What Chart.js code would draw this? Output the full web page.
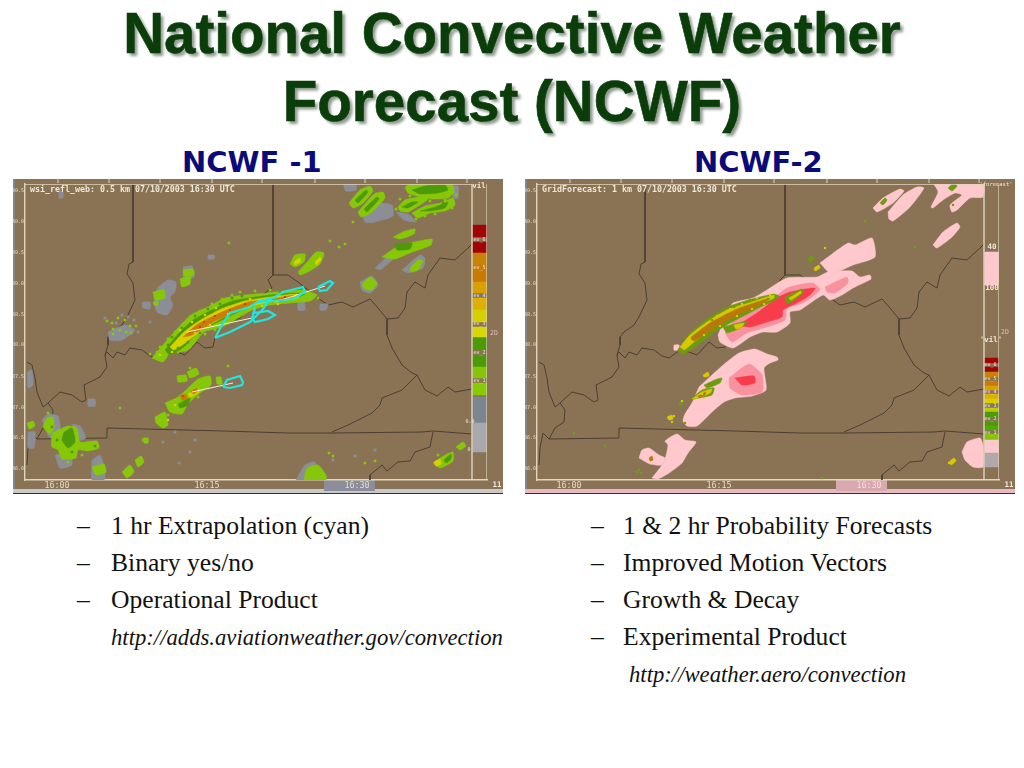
<!DOCTYPE html>
<html><head><meta charset="utf-8">
<script src="https://cdn.jsdelivr.net/npm/chart.js@4"></script>
<style>
html,body{margin:0;padding:0;background:#fff;width:1024px;height:768px;overflow:hidden}
.t{position:absolute;white-space:nowrap;line-height:1}
#title{left:0;width:1024px;text-align:center;font:bold 56.5px "Liberation Sans";color:#0b3d0b;text-shadow:3px 3px 3px #8f9a8f;line-height:68px;top:3px;-webkit-text-stroke:.6px #0b3d0b}
.sub{font:bold 29px "DejaVu Sans";color:#0a0a7a;top:145px}
.li{font:25.6px "Liberation Serif";color:#111}
.url{font:italic 22.7px "Liberation Serif";color:#111}
.panel{position:absolute;top:179px;width:490px;height:315px;background:#8a7355;overflow:hidden}
.edge{position:absolute;left:0;top:0;width:2px;height:315px;background:#858585}
.strip{position:absolute;left:0;bottom:0;width:490px;height:4px}
.block{position:absolute;left:311px;top:301px;width:51px;height:11px}
.head{position:absolute;left:17px;top:5px;font:bold 8.3px "DejaVu Sans Mono";color:#eee6d6;white-space:pre;z-index:3}
canvas{position:absolute;left:0;top:0;filter:blur(.6px)}
</style></head><body>
<div id="title">National Convective Weather<br>Forecast (NCWF)</div>
<div class="t sub" style="left:182px">NCWF -1</div>
<div class="t sub" style="left:694px">NCWF-2</div>

<div class="panel" style="left:13px">
 <div class="edge"></div><div class="strip" style="background:#c9c9c9;border-bottom:1px solid #333"></div>
 <div class="block" style="background:#8b8d9a"></div>
 <div class="head">wsi_refl_web: 0.5 km 07/10/2003 16:30 UTC</div>
 <canvas id="one" width="490" height="315"></canvas>
</div>
<div class="panel" style="left:525px">
 <div class="edge"></div><div class="strip" style="background:#e8b9c2;border-bottom:1px solid #333"></div>
 <div class="block" style="background:#d9a9b2"></div>
 <div class="head">GridForecast: 1 km 07/10/2003 16:30 UTC</div>
 <canvas id="two" width="490" height="315"></canvas>
</div>

<div class="t li" style="left:77px;top:511px">–</div><div class="t li" style="left:111px;top:511px">1 hr Extrapolation (cyan)</div>
<div class="t li" style="left:77px;top:548px">–</div><div class="t li" style="left:111px;top:548px">Binary yes/no</div>
<div class="t li" style="left:77px;top:585px">–</div><div class="t li" style="left:111px;top:585px">Operational Product</div>
<div class="t url" style="left:111px;top:625px">http://adds.aviationweather.gov/convection</div>
<div class="t li" style="left:591px;top:511px">–</div><div class="t li" style="left:623px;top:511px">1 &amp; 2 hr Probability Forecasts</div>
<div class="t li" style="left:591px;top:548px">–</div><div class="t li" style="left:623px;top:548px">Improved Motion Vectors</div>
<div class="t li" style="left:591px;top:585px">–</div><div class="t li" style="left:623px;top:585px">Growth &amp; Decay</div>
<div class="t li" style="left:591px;top:622px">–</div><div class="t li" style="left:623px;top:622px">Experimental Product</div>
<div class="t url" style="left:629px;top:662px">http://weather.aero/convection</div>

<script>
/* ---- axes ---- */
const timeTickValues = [57, 207, 357];
const timeTickLabels = ["16:00", "16:15", "16:30"];
const latTickValues = [191, 222, 253, 284, 315, 345, 377, 408, 438, 469];
const latTickLabels = ["40.5", "40.0", "39.5", "39.0", "38.5", "38.0", "37.5", "37.0", "36.5", "36.0"];
const topTickValues = [58, 109, 160, 212, 262, 315, 365, 417, 467];
const bottomTickValues = [105, 155, 205, 255, 305, 354, 404, 454];

/* ---- map outlines (shared by both panels) ---- */
const borderIndianaIllinois = [[133,184],[133,262],[129,264],[127,274],[133,283],[135,300],[127,317],[122,325],[112,332],[108,337],[108,345],[105,355]];
const borderIndianaOhio = [[273,184],[273,275]];
const riverOhio = [[27,362],[32,365],[35,378],[37,392],[43,407],[48,403],[60,392],[72,395],[82,402],[86,400],[84,385],[100,377],[107,367],[105,355],[107,352],[113,358],[117,352],[125,355],[130,348],[142,350],[150,356],[157,358],[168,350],[177,352],[185,355],[197,342],[205,348],[213,347],[215,337],[222,325],[240,318],[255,300],[262,295],[272,288],[268,280],[273,275],[288,275],[298,282],[308,290],[318,298],[328,305],[342,302],[353,307],[370,299],[378,308],[387,319],[398,318],[405,308],[407,292],[415,282],[425,288],[428,275],[440,258],[455,260],[468,248],[472,244]];
const borderKentuckyVirginia = [[387,319],[387,335],[392,348],[402,365],[412,373],[417,375],[402,390],[382,398],[380,405],[372,413],[362,418],[348,425],[332,432]];
const borderVirginiaWest = [[417,375],[425,390],[437,396],[448,387],[455,392],[472,389]];
const borderTennessee = [[37,439],[107,438],[107,428],[223,431],[288,433],[332,433],[422,432],[433,431],[472,434]];
const riverMississippi = [[48,403],[53,410],[52,422],[43,428],[37,439],[31,433],[28,448],[27,465]];
const borderNorthCarolina = [[433,432],[430,447],[415,452],[410,461],[398,462],[387,471],[382,465],[370,475],[370,480]];
const mapLines = [borderIndianaIllinois, borderIndianaOhio, riverOhio, borderKentuckyVirginia, borderVirginiaWest, borderTennessee, riverMississippi, borderNorthCarolina];

/* ---- frame ---- */
const frameTop = [[25,184],[472,184]];
const frameInner = [[472,184],[472,480]];
const frameOuter = [[487,184],[487,480]];

/* ---- colour scale ---- */
const scaleOneBreaks = [[225,237],[242,253],[253,265],[265,282],[282,293],[298,310],[310,322],[327,337],[338,350],[355,367],[367,378],[383,395],[397,423],[423,452]];
const scaleOneColors = ["#a00505","#a00505","#c98208","#c97a05","#d8a005","#ddb005","#d6d000","#d8d800","#4c9a08","#4c9a08","#86c408","#86cc00","#7c8690","#a9a9ad"];
const scaleTwoBreaks = [[358,363],[367,372],[372,377],[381,386],[386,390],[394,399],[399,403],[408,412],[412,418],[422,426],[426,430],[434,440],[440,453],[453,467]];
const scaleTwoColors = ["#a00505","#a00505","#c98208","#c97a05","#d8a005","#ddb005","#d6d000","#b8cc00","#4c9a08","#4c9a08","#50aa00","#86c408","#ffc8cd","#b0a8aa"];
const scaleTwoForecast = [[252,285]];
const scaleOneLabels = [["ev_6",240],["ev_5",268],["ev_4",296],["ev_3",324],["ev_2",353],["ev_1",381]];
const scaleTwoLabels = [["ev_6",365],["ev_5",379],["ev_4",392],["ev_3",406],["ev_2",419],["ev_1",433]];

/* ---- reflectivity panel ---- */
const oneGray = [
 [[158,287],[168,280],[176,282],[175,292],[170,297],[173,305],[167,315],[157,312],[154,300]],
 [[142,302],[150,302],[150,309],[143,308]],
 [[183,267],[192,266],[194,277],[184,280]],
 [[59,192],[63,192],[63,198],[59,198]],
 [[208,255],[214,255],[214,259],[208,259]],
 [[343,184],[356,184],[356,190],[346,191]],
 [[362,210],[380,203],[392,205],[393,216],[375,222],[365,222]],
 [[375,268],[395,250],[400,252],[390,262],[380,270]],
 [[402,270],[420,255],[425,258],[423,268],[408,273]],
 [[360,282],[372,276],[378,285],[370,293],[362,290]],
 [[298,300],[304,300],[305,310],[298,310]],
 [[320,304],[328,304],[326,310],[320,310]],
 [[178,330],[190,317],[205,311],[218,312],[200,328],[182,336]],
 [[226,300],[232,296],[238,298],[232,304]],
 [[42,420],[48,414],[58,416],[60,430],[50,438]],
 [[72,424],[80,426],[86,438],[78,440]],
 [[55,455],[70,452],[72,465],[60,468]],
 [[92,460],[100,455],[105,470],[104,480],[92,480]],
 [[27,372],[32,370],[33,385],[28,388]],
 [[88,399],[95,399],[95,406],[88,406]],
 [[296,480],[305,465],[315,462],[318,480]],
 [[28,432],[35,432],[34,448],[28,448]],
 [[108,332],[125,325],[135,330],[122,340],[110,340]],
 [[452,186],[458,186],[458,198],[453,198]],
 [[396,212],[408,214],[416,222],[404,220]]
];
const oneLightGreen = [
 [[152,358],[163,345],[176,330],[191,315],[210,306],[225,298],[245,295],[267,293],[283,291],[303,290],[317,295],[310,301],[290,303],[270,305],[252,310],[235,320],[222,327],[204,332],[194,344],[187,351],[170,353],[163,362]],
 [[153,292],[164,290],[165,298],[155,300]],
 [[153,302],[158,301],[158,305],[154,305]],
 [[183,270],[193,269],[194,275],[184,276]],
 [[180,279],[190,276],[190,284],[182,287]],
 [[349,203],[360,190],[370,186],[373,191],[362,204],[353,208]],
 [[358,212],[374,194],[383,192],[385,198],[371,213],[361,217]],
 [[405,187],[410,184],[452,184],[454,192],[448,198],[432,199],[420,197],[408,193]],
 [[398,207],[405,200],[420,197],[428,199],[420,205],[408,212],[400,211]],
 [[412,213],[425,206],[440,203],[453,198],[455,205],[445,211],[430,213],[418,218]],
 [[393,237],[405,231],[415,229],[414,234],[400,239]],
 [[382,257],[395,248],[410,243],[432,239],[431,245],[410,253],[395,259]],
 [[410,268],[418,260],[423,261],[418,270],[411,272]],
 [[362,284],[370,277],[377,283],[372,290],[365,289]],
 [[290,264],[295,255],[305,254],[304,262],[295,267]],
 [[298,272],[308,261],[316,252],[324,253],[320,264],[308,272],[300,275]],
 [[177,376],[186,375],[187,381],[178,382]],
 [[187,372],[196,368],[199,374],[190,378]],
 [[155,417],[165,412],[168,425],[163,428],[156,423]],
 [[165,403],[178,397],[185,391],[198,379],[210,376],[211,385],[200,393],[188,404],[182,414],[170,412]],
 [[216,377],[221,377],[222,384],[217,384]],
 [[58,430],[68,426],[77,428],[80,442],[97,441],[99,448],[88,451],[78,450],[76,458],[62,459],[58,450],[52,447],[52,434]],
 [[43,427],[47,418],[53,417],[54,428],[50,434]],
 [[27,423],[33,421],[35,426],[29,429]],
 [[92,467],[104,464],[106,472],[96,475]],
 [[122,472],[130,465],[134,472],[127,478]],
 [[135,460],[141,456],[144,462],[138,467]],
 [[143,438],[148,438],[148,443],[144,443]],
 [[304,480],[307,468],[318,465],[326,475],[326,480]],
 [[433,463],[445,455],[453,452],[453,461],[440,468]],
 [[456,447],[463,442],[466,446],[460,450]]
];
const oneDarkGreen = [
 [[165,350],[178,334],[193,320],[212,310],[232,301],[262,296],[292,293],[305,294],[292,299],[262,303],[238,312],[218,322],[199,331],[185,346],[170,355]],
 [[412,190],[425,186],[445,185],[448,190],[438,193],[420,194]],
 [[402,207],[412,202],[418,202],[408,208]],
 [[420,211],[435,207],[448,202],[445,208],[430,211]],
 [[64,432],[72,428],[75,442],[68,448],[62,440]],
 [[355,200],[366,190],[368,192],[358,203]],
 [[364,209],[377,197],[379,199],[367,212]],
 [[395,244],[412,243],[410,249],[397,250]],
 [[178,404],[190,398],[188,405],[180,408]],
 [[444,460],[451,454],[451,459],[446,463]]
];
const oneYellow = [
 [[170,347],[184,332],[199,321],[221,309],[245,301],[270,297],[298,294],[298,298],[270,302],[245,308],[222,318],[203,329],[188,341],[174,350]],
 [[294,262],[300,258],[300,262],[295,265]],
 [[188,394],[198,388],[199,392],[190,397]],
 [[434,462],[440,459],[441,464],[436,466]],
 [[315,262],[320,257],[321,260],[316,265]]
];
const oneOrange = [
 [[183,337],[198,324],[222,312],[248,302],[258,301],[240,310],[215,321],[192,335]],
 [[272,299],[295,295],[290,299],[272,302]],
 [[180,396],[186,394],[187,399],[182,400]],
 [[191,391],[197,388],[198,391],[193,394]]
];
const oneCyan = [
 [[215,338],[223,323],[230,313],[250,307],[257,302],[270,299],[263,309],[250,322],[230,332]],
 [[257,302],[273,298],[283,292],[303,287],[305,292],[293,299],[273,301]],
 [[255,307],[254,313],[268,311],[275,315],[268,319],[255,322],[252,319]],
 [[318,287],[330,281],[333,283],[327,290],[320,291]],
 [[223,387],[227,380],[240,376],[243,382],[242,385],[230,388]]
];
const oneVectors = [
 [[187,332],[252,318]],
 [[275,302],[325,286]],
 [[192,392],[233,383]]
];
const oneGreenSpeckle = [[107,321],[112,323],[118,318],[125,320],[130,326],[136,326],[113,329],[120,330],[126,332],[131,333],[113,334],[229,243],[339,247],[353,222],[120,408],[330,241],[143,440],[375,461],[365,463],[329,453],[333,456],[190,368],[228,366],[345,244],[438,455],
 [160,347],[168,339],[175,332],[183,324],[190,317],[200,311],[212,304],[222,299],[232,295],[240,292],[255,291],[270,290],[157,352],[205,334],[195,340],[215,330],[228,323],[190,347],[178,352],[150,354],[165,358],[318,298],
 [400,199],[402,205],[410,196],[430,201],[445,200],[456,195],[416,219],[425,216],[435,214],[452,208],[396,209],[168,415],[198,397],[208,388],[48,413],[82,455],[68,462]];
const oneDarkSpeckle = [[172,337],[182,328],[195,316],[208,309],[220,304],[232,298],[242,296],[280,292],[168,345],[188,342],[200,333],[225,319],[178,348],[430,189],[443,203],[408,205],[57,440],[72,452],[52,427],[95,446]];
const oneYellowSpeckle = [[180,330],[192,322],[205,315],[216,308],[195,333],[210,325],[228,314],[250,299],[262,306],[278,304],[172,352],[160,355],[175,405],[168,420]];
const oneRedSpeckle = [[190,332],[204,322],[230,310],[245,304],[285,297],[215,316],[200,327],[183,396]];
const oneGraySpeckle = [[105,318],[122,315],[128,317],[116,323],[134,320],[138,332],[150,322],[175,432],[190,452],[179,463],[375,450],[355,456],[333,460],[163,442],[195,440],[219,379]];

/* ---- forecast panel ---- */
const twoPink = [
 [[361,208],[371,198],[388,189],[392,191],[381,203],[365,212]],
 [[376,212],[391,195],[405,187],[412,188],[398,207],[381,221],[377,219]],
 [[421,183],[471,183],[471,197],[458,198],[445,210],[440,212],[438,205],[450,195],[443,193],[431,200],[421,208],[419,207],[426,192]],
 [[421,245],[431,232],[445,223],[448,227],[440,237],[425,248]],
 [[308,263],[336,243],[343,245],[360,238],[363,257],[341,265],[330,270],[318,273]],
 [[206,335],[216,312],[221,303],[241,298],[255,290],[275,278],[305,277],[316,272],[340,271],[348,277],[358,275],[359,279],[341,288],[330,295],[318,300],[311,295],[288,310],[278,312],[278,323],[265,332],[251,332],[238,337],[221,348],[208,342]],
 [[187,387],[210,366],[227,353],[243,349],[255,354],[265,357],[266,360],[258,363],[252,368],[254,390],[240,396],[223,398],[212,402],[200,412],[185,426],[175,426],[171,421],[173,414],[180,403]],
 [[140,478],[152,462],[156,445],[153,441],[165,434],[173,440],[184,442],[176,453],[170,463],[157,473],[146,479]],
 [[127,458],[130,450],[137,448],[147,455],[153,458],[150,465],[138,464]],
 [[450,452],[455,442],[468,438],[471,445],[471,467],[461,467],[453,460]],
 [[162,345],[167,345],[167,350],[162,350]]
];
const twoSalmon = [
 [[213,333],[225,317],[251,307],[275,288],[301,283],[308,290],[291,303],[275,308],[273,320],[255,327],[235,333],[220,342]],
 [[313,287],[335,277],[336,283],[323,293],[315,292]],
 [[217,378],[237,364],[250,375],[250,392],[230,395],[218,388]]
];
const twoRed = [
 [[226,325],[245,313],[265,298],[278,292],[303,288],[298,295],[285,303],[271,310],[270,317],[255,322],[238,327]],
 [[223,378],[242,376],[243,383],[230,385]]
];
const twoGreen = [
 [[165,351],[178,333],[198,317],[218,306],[240,299],[262,294],[268,297],[245,309],[222,321],[203,332],[187,344],[172,354]],
 [[211,327],[235,321],[232,326],[215,333]],
 [[273,297],[290,289],[291,293],[278,303],[274,302]],
 [[178,400],[190,390],[202,388],[200,395],[187,398]],
 [[192,385],[205,379],[210,378],[208,383],[195,388]],
 [[368,203],[373,198],[375,200],[371,205]],
 [[436,188],[442,183],[445,186],[440,191]],
 [[296,258],[300,256],[302,259],[298,263]]
];
const twoYellow = [
 [[168,347],[178,335],[198,320],[215,310],[240,302],[262,295],[262,298],[240,307],[218,318],[198,330],[182,342],[172,350]],
 [[222,325],[232,323],[230,327],[224,329]],
 [[277,298],[289,291],[289,293],[279,300]],
 [[180,399],[190,392],[200,389],[198,393],[186,398]],
 [[191,375],[196,372],[197,376],[192,377]],
 [[302,268],[307,265],[308,268],[303,271]],
 [[155,417],[160,415],[161,419],[157,420]],
 [[437,462],[442,458],[444,461],[439,465]]
];
const twoOrange = [
 [[178,338],[198,323],[225,309],[258,298],[252,303],[222,317],[195,333],[182,341]],
 [[186,396],[194,392],[193,395],[187,398]],
 [[137,458],[140,456],[141,460],[138,461]]
];
const twoGreenSpeckle = [[127,470],[125,472],[129,473],[62,433],[93,446],[353,221],[403,247],[310,478],[170,402],[168,404],[173,423],[441,205],[170,350],[183,335],[200,320],[222,307],[238,300],[256,299],[212,322],[232,312],[186,342],[204,327],[281,294]];
const twoYellowSpeckle = [[170,401],[157,418],[162,416],[160,422],[313,248],[437,463],[172,344],[178,338],[186,330],[195,323],[205,316],[218,309],[230,304],[245,298],[258,295],[192,335],[208,326],[225,316],[240,309],[252,304],[283,296],[288,293],[190,394]];

/* ---- builders ---- */
const pts = s => s.map(p => ({x: p[0], y: p[1]}));
const area = (shape, color, curve) => ({data: pts(shape.concat([shape[0]])), showLine: true, fill: 'shape', tension: curve, backgroundColor: color, borderColor: color, borderWidth: .5, pointRadius: 0});
const stroke = (shape, color, width) => ({data: pts(shape), showLine: true, fill: false, borderColor: color, borderWidth: width, pointRadius: 0});
const dots = (list, color, r) => ({data: pts(list), showLine: false, pointStyle: 'rect', pointRadius: r, backgroundColor: color, borderWidth: 0});
const many = (shapes, color) => shapes.map(s => area(s, color, .2));
const bar = (range, color) => area([[472.5,range[0]],[486.5,range[0]],[486.5,range[1]],[472.5,range[1]]], color, 0);
const BEIGE = '#dfd6bf', MAP = '#4b3e33';

function frameSets(){
  const rows = [stroke(frameTop, BEIGE, 1.4), stroke(frameInner, BEIGE, 1.4), stroke(frameOuter, BEIGE, 1.2)];
  rows.push(Object.assign(dots(topTickValues.map(x => [x,181]), BEIGE, 2), {pointStyle:'line', rotation:90, borderColor:BEIGE, borderWidth:1, clip:false}));
  rows.push(Object.assign(dots(bottomTickValues.map(x => [x,489]), '#b9ab95', 2), {pointStyle:'line', rotation:90, borderColor:'#b9ab95', borderWidth:1, clip:false}));
  return rows;
}
const oneSets = [].concat(
  scaleOneBreaks.map((r,i) => bar(r, scaleOneColors[i])),
  mapLines.map(l => stroke(l, MAP, 1)),
  many(oneGray, '#8b8e96'), [dots(oneGraySpeckle, '#8b8e96', 2)],
  many(oneLightGreen, '#86c808'), [dots(oneGreenSpeckle, '#86c808', 1.8)],
  many(oneDarkGreen, '#4f9a08'), many(oneYellow, '#d8d000'), many(oneOrange, '#cc7a08'),
  [dots(oneDarkSpeckle, '#4f9a08', 1.8), dots(oneYellowSpeckle, '#d8d000', 1.6), dots(oneRedSpeckle, '#c04a10', 1.4)],
  oneVectors.map(l => stroke(l, '#f4eedd', 1)),
  oneCyan.map(s => stroke(s.concat([s[0]]), '#22e6dc', 2.2)),
  frameSets()
);
const twoSets = [].concat(
  scaleTwoBreaks.map((r,i) => bar(r, scaleTwoColors[i])),
  scaleTwoForecast.map(r => bar(r, '#ffc8cd')),
  mapLines.map(l => stroke(l, MAP, 1)),
  many(twoPink, '#ffc8cd'), many(twoSalmon, '#f8929e'), many(twoRed, '#f83c4c'),
  many(twoGreen, '#6e9a10'), many(twoYellow, '#d8c800'), many(twoOrange, '#b8780a'),
  [dots(twoGreenSpeckle, '#6f9f10', 1.6), dots(twoYellowSpeckle, '#d8cc00', 1.5)],
  frameSets()
);
oneSets.forEach((d,i) => d.order = oneSets.length - i);
twoSets.forEach((d,i) => d.order = twoSets.length - i);

function notes(list){
  return {id:'notes', afterDatasetsDraw(c){
    const g = c.ctx, xs = c.scales.x, ys = c.scales.y;
    g.save(); g.textAlign='center'; g.textBaseline='middle';
    list.forEach(n => {
      g.font = n[3] || '5px "DejaVu Sans Mono"'; g.fillStyle = n[4] || '#f0e8dc';
      g.fillText(n[0], xs.getPixelForValue(n[1]), ys.getPixelForValue(n[2]));
    });
    g.restore();
  }};
}
const BIG = 'bold 7.5px "DejaVu Sans Mono"';
const oneNotes = scaleOneLabels.map(l => [l[0],479.5,l[1]]).concat([["vil",479,186,BIG],["2D",494,333,'6.5px "DejaVu Sans Mono"','#e8b8c0'],["0.0",470,422],["0",469,450],["11",497,485,BIG]]);
const twoNotes = scaleTwoLabels.map(l => [l[0],478.5,l[1]]).concat([["'forecast'",484,185,'5.5px "DejaVu Sans Mono"'],["'vil'",479,340,BIG],["40",480,247,BIG],["100",480,288,BIG],["2D",493,332,'6.5px "DejaVu Sans Mono"','#e8b8c0'],["11",497,485,BIG]]);

function draw(id, sets, noteList, lastColor){
  new Chart(document.getElementById(id), {
    type:'scatter',
    data:{datasets:sets},
    plugins:[notes(noteList)],
    options:{
      responsive:false, animation:false, events:[],
      layout:{padding:{left:0,right:16,top:5,bottom:0}},
      plugins:{legend:{display:false},tooltip:{enabled:false},title:{display:false}},
      scales:{
        x:{type:'linear',min:25,max:487,position:'bottom',
          grid:{display:false,drawTicks:false},border:{color:BEIGE,width:1.4},
          afterFit(s){s.height=14;},
          afterBuildTicks(s){s.ticks=timeTickValues.map(v=>({value:v}));},
          ticks:{autoSkip:false,maxRotation:0,padding:1,font:{family:'DejaVu Sans Mono',size:8.4},
            color:c=>c.index===2?lastColor:'#e6dcc8',
            callback:(v,i)=>timeTickLabels[i]}},
        y:{type:'linear',min:184,max:480,reverse:true,position:'left',
          grid:{display:false,drawTicks:false},border:{color:BEIGE,width:1.4},
          afterFit(s){s.width=12;},
          afterBuildTicks(s){s.ticks=latTickValues.map(v=>({value:v}));},
          ticks:{autoSkip:false,padding:1,font:{family:'DejaVu Sans Mono',size:5},color:'#e0d8c8',
            callback:(v,i)=>latTickLabels[i]}}
      }
    }
  });
}
draw('one', oneSets, oneNotes, '#e6dcc8');
draw('two', twoSets, twoNotes, '#f4dde0');
</script>
</body></html>
